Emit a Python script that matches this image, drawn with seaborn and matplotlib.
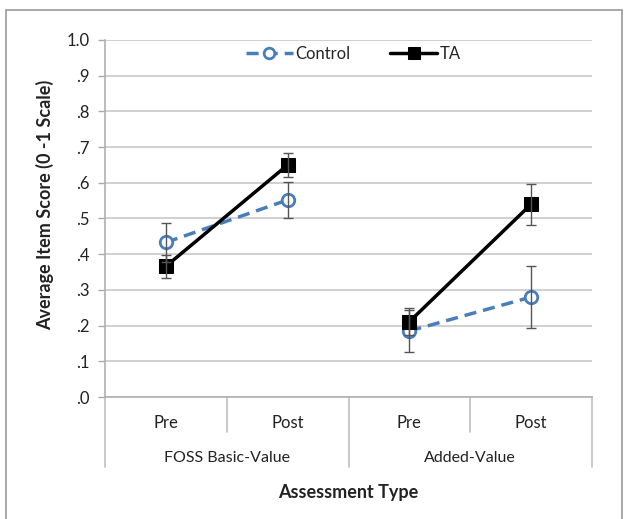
import numpy as np
import pandas as pd
import matplotlib
matplotlib.use("Agg")
import matplotlib.pyplot as plt
import seaborn as sns
from matplotlib.patches import Rectangle

groups = ["FOSS Basic-Value", "FOSS Basic-Value", "Added-Value", "Added-Value"]
phases = ["Pre", "Post", "Pre", "Post"]
control_vals = [0.433, 0.552, 0.185, 0.280]
control_err = [0.055, 0.050, 0.060, 0.088]
ta_vals = [0.366, 0.650, 0.211, 0.540]
ta_err = [0.033, 0.034, 0.038, 0.058]
y_ticks = [0.0, 0.1, 0.2, 0.3, 0.4, 0.5, 0.6, 0.7, 0.8, 0.9, 1.0]
y_labels = [".0", ".1", ".2", ".3", ".4", ".5", ".6", ".7", ".8", ".9", "1.0"]

sns.set_theme(style="white")
plt.rcParams["font.family"] = ["Lato", "DejaVu Sans"]

rows = []
for i, (g, p) in enumerate(zip(groups, phases)):
    rows.append(dict(pos=i, group=g, phase=p, series="Control", value=control_vals[i], err=control_err[i]))
    rows.append(dict(pos=i, group=g, phase=p, series="TA", value=ta_vals[i], err=ta_err[i]))
df = pd.DataFrame(rows)

fig = plt.figure(figsize=(6.29, 5.19), dpi=100)
fig.patches.append(Rectangle((6 / 629, -0.01), 616 / 629, 1 - 10 / 519 + 0.01, transform=fig.transFigure,
                             fill=False, edgecolor="#9a9a9a", linewidth=1.2))
ax = fig.add_axes([105 / 629, 1 - 397 / 519, 487 / 629, 357 / 519])

blue = "#4a7ebb"
styles = {
    "Control": dict(color=blue, linestyle=(0, (3.5, 2)), marker="o", markersize=9,
                    markerfacecolor="white", markeredgecolor=blue, markeredgewidth=2, linewidth=2.5),
    "TA": dict(color="black", linestyle="-", marker="s", markersize=10,
               markerfacecolor="black", markeredgecolor="black", linewidth=2.5),
}

for g in ["FOSS Basic-Value", "Added-Value"]:
    for s in ["Control", "TA"]:
        sub = df[(df.group == g) & (df.series == s)]
        sns.lineplot(data=sub, x="pos", y="value", ax=ax, label=s if g == "FOSS Basic-Value" else None,
                     legend=False, zorder=3 if s == "TA" else 2, **styles[s])

for s in ["Control", "TA"]:
    sub = df[df.series == s]
    ax.errorbar(sub.pos, sub.value, yerr=sub.err, fmt="none", ecolor="#555555",
                elinewidth=1, capsize=3.5, capthick=1, zorder=4)

ax.set_xlim(-0.5, 3.5)
ax.set_ylim(0, 1)
ax.set_yticks(y_ticks)
ax.set_yticklabels(y_labels, fontsize=12, color="#222222")
ax.set_xticks(range(len(phases)))
ax.set_xticklabels(phases, fontsize=12, color="#222222")
ax.tick_params(axis="x", length=0, pad=13)
ax.tick_params(axis="y", length=5, color="#aaaaaa", width=1, pad=6, left=True)
ax.yaxis.grid(True, color="#c8c8c8", linewidth=1.2)
ax.set_axisbelow(True)
for side in ["top", "right"]:
    ax.spines[side].set_visible(False)
for side in ["left", "bottom"]:
    ax.spines[side].set_color("#b0b0b0")
    ax.spines[side].set_linewidth(1.2)

trans = ax.get_xaxis_transform()
for x in [0.5, 2.5]:
    ax.plot([x, x], [0, -0.098], transform=trans, color="#c0c0c0", linewidth=1.2, clip_on=False)
for x in [-0.5, 1.5, 3.5]:
    ax.plot([x, x], [0, -0.196], transform=trans, color="#c0c0c0", linewidth=1.2, clip_on=False)
for x, g in [(0.5, "FOSS Basic-Value"), (2.5, "Added-Value")]:
    ax.text(x, -0.172, g, transform=trans, ha="center", va="center", fontsize=11.5, color="#222222")

ax.set_xlabel("")
ax.text(1.5, -0.267, "Assessment Type", transform=trans, ha="center", va="center",
        fontsize=13, fontweight="bold", color="#222222")
ax.set_ylabel("Average Item Score (0 -1 Scale)", fontsize=13, fontweight="bold", color="#222222")
ax.yaxis.set_label_coords(-0.105, 0.538)

handles, labels = ax.get_legend_handles_labels()
leg = ax.legend(handles, labels, loc="center", bbox_to_anchor=(0.51, 0.962), ncol=2, frameon=False,
                fontsize=12, handlelength=2.8, columnspacing=2.4, handletextpad=0.15, markerscale=0.85)

fig.savefig("out.png", dpi=100)
